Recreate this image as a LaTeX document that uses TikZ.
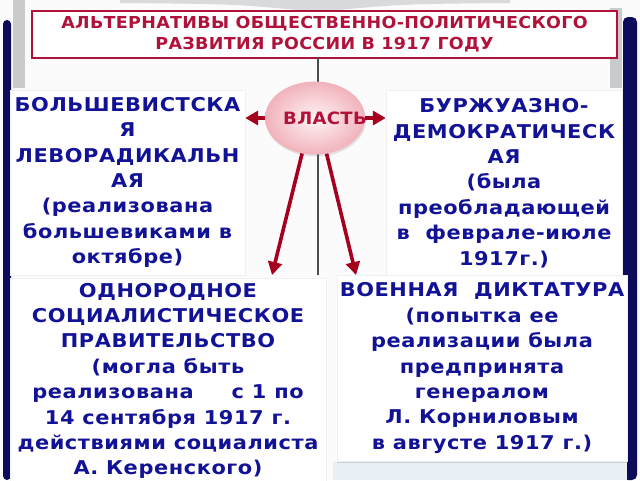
\documentclass[tikz,border=0pt]{standalone}
\usepackage{fontspec}
\usepackage{xcolor}
\usepackage{tikz}
\usetikzlibrary{positioning, arrows.meta, shapes.geometric, shadows}

\newfontfamily\boxfont{DejaVu Sans}[FakeStretch=1.1,LetterSpace=3]
\newfontfamily\headfont{DejaVu Sans}[FakeStretch=1.06,LetterSpace=2]

\definecolor{navyedge}{RGB}{12,12,90}
\definecolor{pagegray}{RGB}{200,202,204}
\definecolor{textblue}{RGB}{18,18,150}
\definecolor{titlered}{RGB}{176,18,58}
\definecolor{arrowred}{RGB}{166,0,31}
\definecolor{pinkin}{RGB}{255,244,245}
\definecolor{pinkout}{RGB}{241,178,187}
\definecolor{floorblue}{RGB}{232,240,246}

\tikzset{
  box/.style={fill=white, draw=gray!12, inner sep=0pt, align=center, text=textblue,
    font=\boxfont\bfseries\fontsize{19}{25.4}\selectfont},
  arr/.style={arrowred, line width=3.6pt, -{Triangle[width=14pt,length=13pt]}},
}

\begin{document}
\begin{tikzpicture}[x=1pt, y=-1pt]
    \useasboundingbox (0,0) rectangle (640,480);
    % notebook
    \fill[white!97!gray] (0,0) rectangle (640,480);
    \fill[pagegray!70] (120,0) -- (510,0) -- (510,3) .. controls (400,4) .. (318,12)
        .. controls (236,4) .. (120,3) -- cycle;
    \fill[pagegray] (13,0) rectangle (25,88);
    \fill[pagegray] (610,8) rectangle (622,88);
    \fill[navyedge, rounded corners=4] (3,20) rectangle (11,480);
    \fill[navyedge, rounded corners=5] (623,17) rectangle (637,480);
    \fill[floorblue] (333,462) rectangle (627,480);
    \node[draw=titlered, line width=2pt, fill=white, minimum width=585, minimum height=47,
        inner sep=0pt, align=center, text=titlered,
        font=\headfont\bfseries\fontsize{16.5}{21.5}\selectfont] (title) at (324.5,34)
        {АЛЬТЕРНАТИВЫ ОБЩЕСТВЕННО-ПОЛИТИЧЕСКОГО\\РАЗВИТИЯ РОССИИ В 1917 ГОДУ};
    \node[box, minimum width=235, minimum height=185] (bolsh) at (127.5,182.5)
        {БОЛЬШЕВИСТСКА\\Я\\ЛЕВОРАДИКАЛЬН\\АЯ\\(реализована\\большевиками в\\октябре)};
    \node[box, minimum width=236, minimum height=186] (burzh) at (504,183)
        {БУРЖУАЗНО-\\ДЕМОКРАТИЧЕСК\\АЯ\\(была\\преобладающей\\в\ \ феврале-июле\\1917г.)};
    \node[box, minimum width=316, minimum height=205] (odnor) at (168,381)
        {ОДНОРОДНОЕ\\СОЦИАЛИСТИЧЕСКОЕ\\ПРАВИТЕЛЬСТВО\\(могла быть\\реализована\hspace{2em}с 1 по\\14 сентября 1917 г.\\действиями социалиста\\А. Керенского)};
    \node[box, minimum width=290, minimum height=186,
        drop shadow={opacity=0.3, shadow xshift=0pt, shadow yshift=-1.5pt}] (voen) at (482,368)
        {ВОЕННАЯ\ \ ДИКТАТУРА\\(попытка ее\\реализации была\\предпринята\\генералом\\Л. Корниловым\\в августе 1917 г.)};
    \coordinate (spinetop) at (318,57);
    \coordinate (spinebot) at (318,275);
    \draw[gray!60!black, line width=1.3pt] (spinetop) -- (spinebot);
    \node[ellipse, minimum width=100, minimum height=73, inner sep=0pt, shading=radial,
        inner color=pinkin, outer color=pinkout,
        drop shadow={opacity=0.2, shadow xshift=1pt, shadow yshift=-2pt}] (vlast) at (315,118) {};
    \node[text=titlered, font=\headfont\bfseries\fontsize{17}{17}\selectfont] (vlasttxt)
        at ([xshift=10pt]vlast.center) {ВЛАСТЬ};
    \coordinate (tipL) at (272,275);
    \coordinate (tipR) at (356,275);
    \draw[arr] (vlast.west) -- (bolsh.east |- vlast.west);
    \draw[arr] (vlast.east) -- (burzh.west |- vlast.east);
    \draw[arr] (vlast.250) -- (tipL);
    \draw[arr] (vlast.288) -- (tipR);
\end{tikzpicture}
\end{document}
